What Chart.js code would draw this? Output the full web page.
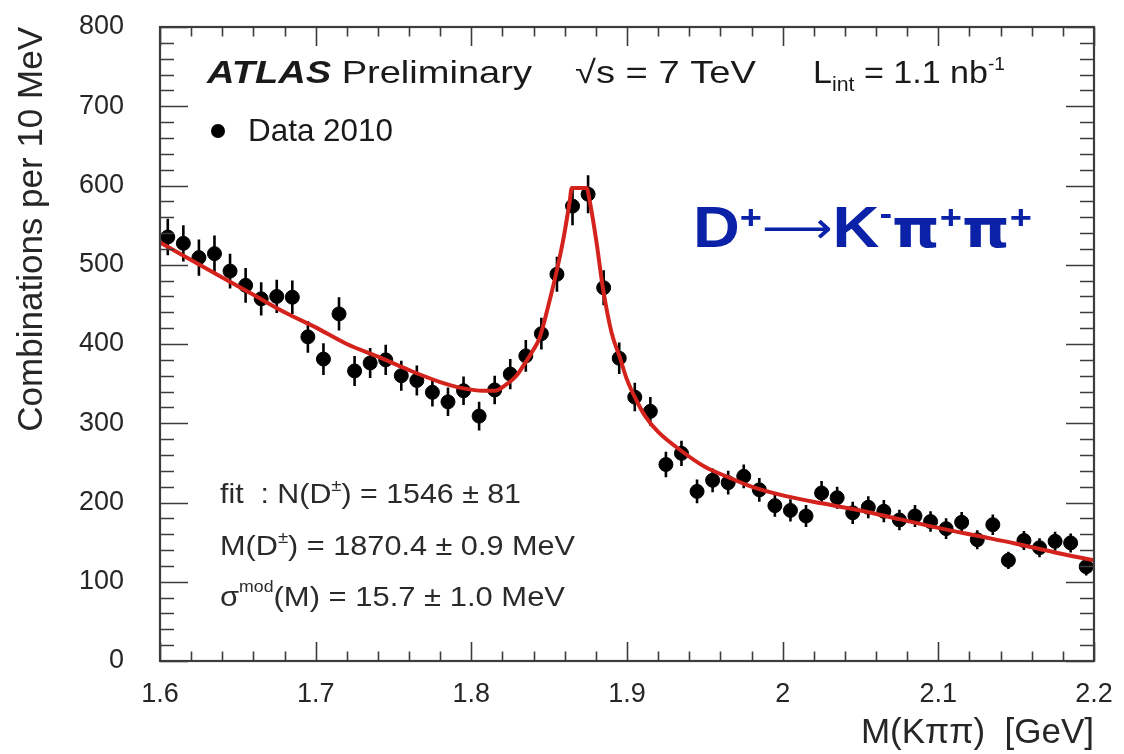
<!DOCTYPE html>
<html>
<head>
<meta charset="utf-8">
<script src="https://cdn.jsdelivr.net/npm/chart.js@4.4.1/dist/chart.umd.min.js"></script>
<style>
  html, body { margin: 0; padding: 0; background: #ffffff; }
  #wrap { width: 1124px; height: 754px; }
</style>
</head>
<body>
<div id="wrap"><canvas id="c" width="1124" height="754"></canvas></div>
<script>
// ---- data ----
const binCenters = [1.605,1.615,1.625,1.635,1.645,1.655,1.665,1.675,1.685,1.695,
                    1.705,1.715,1.725,1.735,1.745,1.755,1.765,1.775,1.785,1.795,
                    1.805,1.815,1.825,1.835,1.845,1.855,1.865,1.875,1.885,1.895,
                    1.905,1.915,1.925,1.935,1.945,1.955,1.965,1.975,1.985,1.995,
                    2.005,2.015,2.025,2.035,2.045,2.055,2.065,2.075,2.085,2.095,
                    2.105,2.115,2.125,2.135,2.145,2.155,2.165,2.175,2.185,2.195];
const counts = [535,527,509,514,492,474,457,460,459,409,
                381,438,366,376,380,360,354,339,327,341,
                309,342,362,385,413,488,574,589,471,382,
                333,315,248,262,214,228,225,233,216,196,
                190,183,212,206,187,194,189,178,183,176,
                167,175,153,172,127,152,143,151,149,119];
const countErrors = [23,23,23,23,22,22,21,21,21,20,
                     20,21,19,19,19,19,19,18,18,18,
                     18,18,19,20,20,22,24,24,22,20,
                     18,18,16,16,15,15,15,15,15,14,
                     14,14,15,14,14,14,14,13,14,13,
                     13,13,12,13,11,12,12,12,12,11];
const fitMass = [1.600,1.620,1.640,1.660,1.680,1.700,1.720,1.740,1.760,1.780,
                 1.795,1.8075,1.815,1.8225,1.829,1.8332,1.839,1.8439,1.8503,1.8546,
                 1.8589,1.8632,1.8645,1.8741,1.8760,1.8803,1.8845,1.8900,1.8954,1.900,
                 1.906,1.912,1.920,1.935,1.950,1.965,1.980,2.000,2.025,2.050,
                 2.075,2.100,2.125,2.150,2.175,2.200];
const fitValues = [528,506,484,462,440,421,400,384,367,352,
                   344,341,341,349,360,372,390,408,455,490,
                   530,580,597,597,581,530,471,415,383,355,
                   329,308,289,265,245,232,220,209,199,190,
                   179,168,158,148,137,127];
const xTickValues = [1.6,1.7,1.8,1.9,2.0,2.1,2.2];
const xTickLabels = ['1.6','1.7','1.8','1.9','2','2.1','2.2'];
const yTickValues = [0,100,200,300,400,500,600,700,800];
const yTickLabels = ['0','100','200','300','400','500','600','700','800'];

const FONT = "'Liberation Sans', Arial, Helvetica, sans-serif";
const TEXT = '#262626';

// inward ticks + frame (ROOT style)
const frameTicks = {
  id: 'frameTicks',
  afterDraw(chart) {
    const {ctx, chartArea: {left, right, top, bottom}, scales: {x, y}} = chart;
    ctx.save();
    ctx.strokeStyle = '#3c3c3c';
    ctx.lineWidth = 1.6;
    ctx.beginPath();
    for (let k = 0; k <= 30; k++) {
      const v = 1.6 + k * 0.02;
      const px = Math.round(x.getPixelForValue(v)) + 0.5;
      const len = (k % 5 === 0) ? 19 : 9.5;
      ctx.moveTo(px, bottom); ctx.lineTo(px, bottom - len);
      ctx.moveTo(px, top); ctx.lineTo(px, top + len);
    }
    for (let k = 0; k <= 40; k++) {
      const v = k * 20;
      const py = Math.round(y.getPixelForValue(v)) + 0.5;
      const len = (k % 5 === 0) ? 28 : 14;
      ctx.moveTo(left, py); ctx.lineTo(left + len, py);
      ctx.moveTo(right, py); ctx.lineTo(right - len, py);
    }
    ctx.stroke();
    ctx.lineWidth = 2.2;
    ctx.strokeRect(left, top, right - left, bottom - top);
    ctx.restore();
  }
};

// vertical error bars, drawn under markers
const errorBars = {
  id: 'errorBars',
  beforeDatasetsDraw(chart) {
    const {ctx, scales: {x, y}} = chart;
    ctx.save();
    ctx.strokeStyle = '#000';
    ctx.lineWidth = 2.6;
    ctx.beginPath();
    binCenters.forEach((m, i) => {
      const px = x.getPixelForValue(m);
      ctx.moveTo(px, y.getPixelForValue(counts[i] - countErrors[i]));
      ctx.lineTo(px, y.getPixelForValue(counts[i] + countErrors[i]));
    });
    ctx.stroke();
    ctx.restore();
  }
};

function richText(ctx, x, y, segs, targetW, color, baseFont) {
  ctx.save();
  ctx.fillStyle = color;
  ctx.textBaseline = 'alphabetic';
  ctx.textAlign = 'left';
  let w = 0;
  segs.forEach(s => { ctx.font = s.f || baseFont; w += ctx.measureText(s.t).width; });
  const sx = targetW ? targetW / w : 1;
  ctx.translate(x, y);
  ctx.scale(sx, 1);
  let cx = 0;
  segs.forEach(s => {
    ctx.font = s.f || baseFont;
    ctx.fillText(s.t, cx, s.dy || 0);
    cx += ctx.measureText(s.t).width;
  });
  ctx.restore();
}

const annotations = {
  id: 'annotations',
  afterDraw(chart) {
    const ctx = chart.ctx;
    const f32 = '32px ' + FONT;
    richText(ctx, 207, 83, [{t: 'ATLAS', f: 'italic bold 32px ' + FONT}, {t: ' Preliminary'}], 325, '#1a1a1a', f32);
    richText(ctx, 575, 83, [{t: '\u221As = 7 TeV'}], 181, '#1a1a1a', f32);
    richText(ctx, 813, 83, [{t: 'L'}, {t: 'int', f: '20px ' + FONT, dy: 8}, {t: ' = 1.1 nb'}, {t: '-1', f: '18px ' + FONT, dy: -13}], 192, '#1a1a1a', f32);
    // legend
    ctx.save();
    ctx.fillStyle = '#000';
    ctx.beginPath(); ctx.arc(218, 131, 7, 0, Math.PI * 2); ctx.fill();
    ctx.restore();
    richText(ctx, 248, 141, [{t: 'Data 2010'}], 145, '#1a1a1a', f32);
    // decay label
    const b58 = 'bold 58px ' + FONT, b34 = 'bold 34px ' + FONT;
    const pi = "bold 54px 'DejaVu Sans'";
    richText(ctx, 693, 247, [
      {t: 'D', f: b58}, {t: '+', f: b34, dy: -18},
      {t: '\u27F6', f: "44px 'DejaVu Sans'", dy: -4},
      {t: 'K', f: b58}, {t: '-', f: b34, dy: -22},
      {t: '\u03C0', f: pi}, {t: '+', f: b34, dy: -18},
      {t: '\u03C0', f: pi}, {t: '+', f: b34, dy: -18}
    ], 339, '#0b22a8', b58);
    // fit results
    const f28 = '28px ' + FONT;
    richText(ctx, 220, 503, [{t: 'fit  : N(D'}, {t: '\u00B1', f: '17px ' + FONT, dy: -12}, {t: ') = 1546 \u00B1 81'}], 301, '#2a2a2a', f28);
    richText(ctx, 220, 555, [{t: 'M(D'}, {t: '\u00B1', f: '17px ' + FONT, dy: -12}, {t: ') = 1870.4 \u00B1 0.9 MeV'}], 355, '#2a2a2a', f28);
    richText(ctx, 220, 606, [{t: '\u03C3'}, {t: 'mod', f: '16px ' + FONT, dy: -14}, {t: '(M) = 15.7 \u00B1 1.0 MeV'}], 345, '#2a2a2a', f28);
  }
};

const pointData = binCenters.map((m, i) => ({x: m, y: counts[i]}));
const fitData = fitMass.map((m, i) => ({x: m, y: fitValues[i]}));

new Chart(document.getElementById('c'), {
  type: 'scatter',
  data: {
    datasets: [
      {
        label: 'Fit',
        type: 'line',
        data: fitData,
        borderColor: '#d4221c',
        borderWidth: 4,
        pointRadius: 0,
        fill: false,
        cubicInterpolationMode: 'monotone',
        order: 0
      },
      {
        label: 'Data 2010',
        data: pointData,
        backgroundColor: '#000',
        borderColor: '#000',
        pointRadius: 7,
        pointHoverRadius: 7,
        order: 1
      }
    ]
  },
  options: {
    responsive: false,
    animation: false,
    devicePixelRatio: 1,
    layout: { padding: { left: 0, top: 27, right: 30, bottom: 0 } },
    plugins: { legend: { display: false }, tooltip: { enabled: false } },
    scales: {
      x: {
        type: 'linear',
        min: 1.6, max: 2.2,
        afterBuildTicks: s => { s.ticks = xTickValues.map(v => ({value: v})); },
        afterFit: s => { s.height = 93; s.paddingLeft = 0; s.paddingRight = 0; },
        grid: { display: false, drawTicks: false },
        border: { display: false },
        ticks: {
          callback: (v) => xTickLabels[xTickValues.findIndex(t => Math.abs(t - v) < 1e-9)],
          font: { family: FONT, size: 27 },
          color: TEXT,
          padding: 17,
          maxRotation: 0
        },
        title: {
          display: true,
          text: 'M(K\u03C0\u03C0)  [GeV]',
          align: 'end',
          font: { family: FONT, size: 35 },
          color: TEXT,
          padding: { top: 0, bottom: 0 }
        }
      },
      y: {
        min: 0, max: 800,
        afterBuildTicks: s => { s.ticks = yTickValues.map(v => ({value: v})); },
        afterFit: s => { s.width = 160; s.paddingTop = 0; s.paddingBottom = 0; },
        grid: { display: false, drawTicks: false },
        border: { display: false },
        ticks: {
          callback: (v) => yTickLabels[yTickValues.indexOf(v)],
          font: { family: FONT, size: 27 },
          color: TEXT,
          padding: 36
        },
        title: {
          display: true,
          text: 'Combinations per 10 MeV',
          align: 'end',
          font: { family: FONT, size: 35 },
          color: TEXT,
          padding: { top: 11, bottom: 0 }
        }
      }
    }
  },
  plugins: [errorBars, frameTicks, annotations]
});
</script>
</body>
</html>
